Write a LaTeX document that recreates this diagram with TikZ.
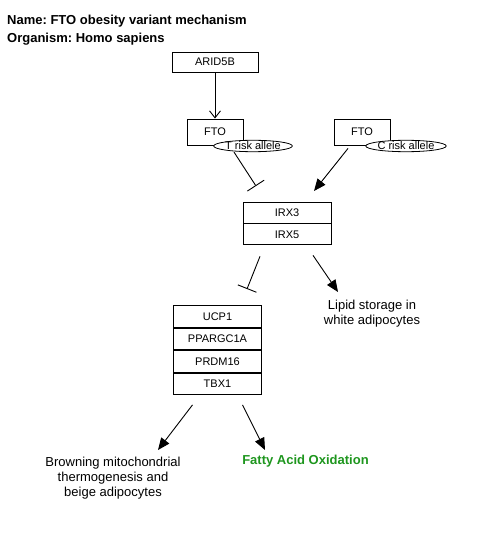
\documentclass[tikz,border=0pt]{standalone}
\usepackage{fontspec}
\setmainfont{Liberation Sans}
\usetikzlibrary{arrows.meta,shapes.geometric,positioning}
\definecolor{oxgreen}{RGB}{30,150,30}
\frenchspacing

\begin{document}
\begin{tikzpicture}[
    x=1pt, y=-1pt,
    box/.style={draw, line width=0.9pt, minimum width=86pt, minimum height=20pt, inner sep=1pt, align=center, font=\fontsize{11}{13}\selectfont, fill=white},
    gene/.style={box, minimum width=88pt, minimum height=21.5pt},
    allele/.style={draw, ellipse, line width=0.8pt, inner sep=0pt, minimum height=11pt, font=\fontsize{11}{12}\selectfont, fill=white},
    lbl/.style={align=center, inner sep=0pt, font=\fontsize{13}{15}\selectfont},
    ttl/.style={anchor=west, inner sep=0pt, font=\bfseries\fontsize{13}{15}\selectfont},
    arr/.style={-{Triangle[length=12pt,width=10pt]}, line width=0.9pt},
    arrv/.style={-{Straight Barb[length=7pt,width=11pt]}, line width=0.9pt},
    inh/.style={-{Bar[width=20pt,line width=0.9pt]}, line width=0.9pt}
]
\useasboundingbox (0,0) rectangle (480,537);

\node[ttl] (name) at (7,21) {Name: FTO obesity variant mechanism};
\node[ttl] (org) at (7,39) {Organism: Homo sapiens};

\node[box] (arid) at (215,62) {ARID5B};
\node[box, minimum width=56pt, minimum height=26pt] (ftoT) at (215,132) {FTO};
\node[allele, minimum width=71pt] (tallele) at (253,146) {T risk allele};
\node[box, minimum width=56pt, minimum height=26pt] (ftoC) at (362,132) {FTO};
\node[allele, minimum width=80pt] (callele) at (406,146) {C risk allele};

\node[box, minimum width=88pt, minimum height=21pt] (irx3) at (287,212.5) {IRX3};
\node[box, minimum width=88pt, minimum height=21pt, below=0pt of irx3] (irx5) {IRX5};

\node[lbl] (lipid) at (372,314) {Lipid storage in\\white adipocytes};

\node[gene] (ucp) at (217.5,316.5) {UCP1};
\node[gene, below=0pt of ucp] (ppar) {PPARGC1A};
\node[gene, below=0pt of ppar] (prdm) {PRDM16};
\node[gene, below=0pt of prdm] (tbx) {TBX1};

\node[lbl] (brown) at (113,478) {Browning mitochondrial\\thermogenesis and\\beige adipocytes};
\node[lbl, font=\bfseries\fontsize{13}{15}\selectfont, text=oxgreen] (fatty) at (305.5,461) {Fatty Acid Oxidation};

\coordinate (tend) at (256,186);
\coordinate (cend) at (314,191);
\coordinate (iend) at (247,289);
\coordinate (lend) at (338,292);
\coordinate (bend) at (158,450);
\coordinate (fend) at (265,450);

\draw[arrv] (arid) -- (ftoT);
\draw[inh] ([xshift=-19pt]tallele.south) -- (tend);
\draw[arr] ([xshift=-14pt,yshift=-3pt]ftoC.south) -- (cend);
\draw[inh] ([xshift=-27pt,yshift=-11pt]irx5.south) -- (iend);
\draw[arr] ([xshift=26pt,yshift=-10pt]irx5.south) -- (lend);
\draw[arr] ([xshift=-25pt,yshift=-10pt]tbx.south) -- (bend);
\draw[arr] ([xshift=25pt,yshift=-10pt]tbx.south) -- (fend);
\end{tikzpicture}
\end{document}
